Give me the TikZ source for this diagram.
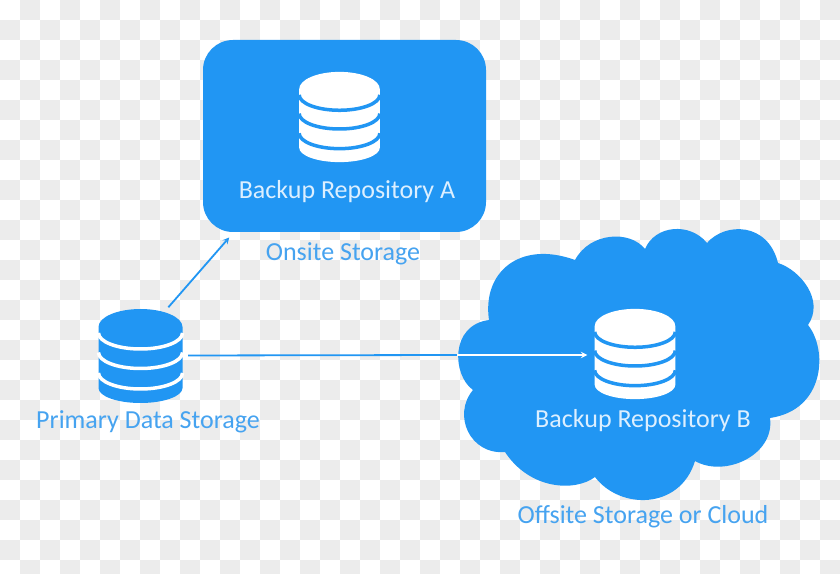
\documentclass[tikz,border=0pt]{standalone}
\usepackage{fontspec}
\setmainfont{Carlito}
\usetikzlibrary{arrows}
\definecolor{repoblue}{HTML}{2196F3}
\definecolor{labelblue}{HTML}{46A3F0}
\definecolor{repotext}{HTML}{DCEFFF}
\definecolor{checkgray}{HTML}{ECECEC}
\tikzset{
  % stacked disks, body colour and gap colour
  pics/dbicon/.style 2 args={code={
      \fill[#1] (-42,29) arc[start angle=180,end angle=0,x radius=42pt,y radius=18pt]
        -- (42,-32) arc[start angle=0,end angle=-180,x radius=42pt,y radius=15pt] -- cycle;
      \foreach \gapy in {23,3.5,-17}
        \draw[#2,line width=3.5pt] (-42,\gapy) arc[start angle=180,end angle=360,x radius=42pt,y radius=16pt];
  }},
  dbnode/.style={minimum width=85pt,minimum height=96pt,inner sep=0pt},
  repobox/.style={fill=repoblue,rounded corners=30pt,minimum width=283pt,minimum height=192pt},
  inlabel/.style={text=repotext,font=\fontsize{26}{30}\selectfont},
  outlabel/.style={text=labelblue,font=\fontsize{26}{30}\selectfont},
  flowline/.style={draw=repoblue,line width=1.8pt,>=stealth}
}
\begin{document}
\begin{tikzpicture}[x=1pt,y=1pt]
  \useasboundingbox (0,0) rectangle (840,573);

  % checkered backdrop
  \begin{scope}
    \clip (0,0) rectangle (840,573);
    \fill[white] (0,0) rectangle (840,573);
    \foreach \i in {0,...,41}
      \foreach \j in {0,...,28} {
        \ifodd\numexpr\i+\j\relax
          \fill[checkgray] (\i*20,573-\j*20) rectangle (\i*20+20,553-\j*20);
        \fi
      }
  \end{scope}

  % cloud outline, lobe by lobe
  \fill[repoblue] (489,253)
    .. controls (482,301) and (520,333) .. (575,313)
    .. controls (590,341) and (630,343) .. (645,324)
    .. controls (655,348) and (690,351) .. (707,330)
    .. controls (725,351) and (768,351) .. (778,310)
    .. controls (800,303) and (825,273) .. (808,248)
    .. controls (828,223) and (825,163) .. (770,155)
    .. controls (775,118) and (725,95) .. (695,112)
    .. controls (680,63) and (620,63) .. (595,96)
    .. controls (575,81) and (530,83) .. (505,121)
    .. controls (470,118) and (452,158) .. (473,183)
    .. controls (452,198) and (450,248) .. (489,253) -- cycle;

  \node [repobox] (repoA) at (344.5,437) {};
  \node [dbnode] (primarydb) at (140.5,217.5) {};
  \node [dbnode] (repoB) at (635,218) {};
  \coordinate (cloudedge) at (457,218);

  \pic at (140.5,217) {dbicon={repoblue}{white}};
  \pic [scale=.96] at (339.5,456) {dbicon={white}{repoblue}};
  \pic [scale=.96] at (635,219) {dbicon={white}{repoblue}};

  \node [inlabel] (repoAtext) at (347,381.5) {Backup Repository A};
  \node [outlabel] (onsite) at (343,319.5) {Onsite Storage};
  \node [outlabel] (primary) at (148,151.5) {Primary Data Storage};
  \node [inlabel] (repoBtext) at (643,152.5) {Backup Repository B};
  \node [outlabel] (offsite) at (643,56.5) {Offsite Storage or Cloud};

  \draw [flowline,->,shorten >=7pt] (primarydb.60) -- (repoA.221);
  \draw [flowline,shorten <=5pt] (primarydb.east) -- (cloudedge);
  \draw [flowline,draw=white,->,shorten >=5pt] (cloudedge) -- (repoB.west);
\end{tikzpicture}
\end{document}
